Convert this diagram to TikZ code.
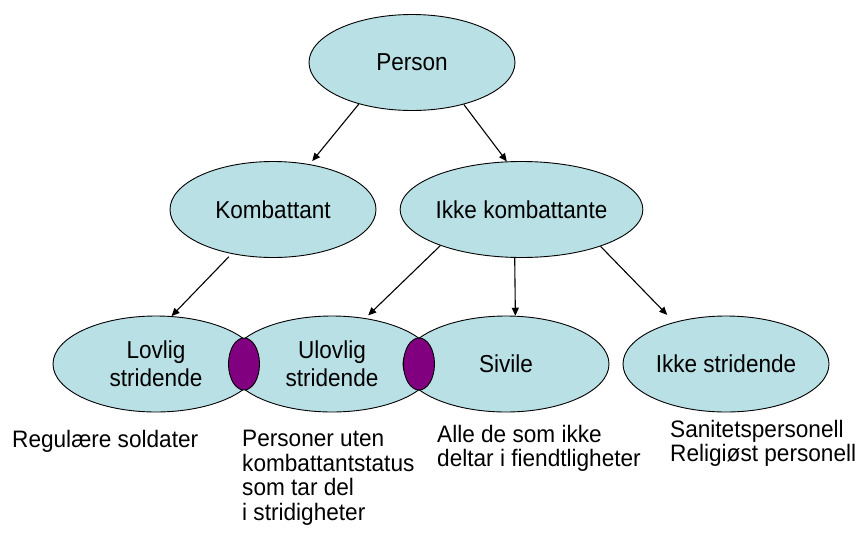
\documentclass[tikz,border=0pt]{standalone}
\usepackage{fontspec}
\setmainfont{Liberation Sans}
\newfontfamily\ovalfont[FakeStretch=0.92]{Liberation Sans}
\newfontfamily\notefont[FakeStretch=0.95]{Liberation Sans}
\usetikzlibrary{shapes.geometric,arrows.meta}
\definecolor{ovalfill}{RGB}{185,224,228}
\definecolor{lensfill}{RGB}{128,0,128}
\begin{document}
\begin{tikzpicture}[x=1pt,y=-1pt,
  oval/.style={ellipse,draw=black,line width=0.9pt,fill=ovalfill,minimum width=206pt,minimum height=96pt,inner sep=0pt,font=\ovalfont\fontsize{24.5}{28}\selectfont,align=center},
  lens/.style={ellipse,draw=black,line width=0.9pt,fill=lensfill,minimum width=31pt,minimum height=52pt,inner sep=0pt},
  conn/.style={-{Triangle[length=8pt,width=7pt]},line width=1.1pt},
  note/.style={anchor=north west,inner sep=0pt,align=left,font=\notefont\fontsize{23.8}{24.5}\selectfont}]
\useasboundingbox (0,0) rectangle (860,533);
\node[oval] (p) at (412,62.5) {Person};
\node[oval] (k) at (273,209.5) {Kombattant};
\node[oval] (ik) at (521.5,209.5) {Ikke kombattante};
\node[oval] (lov) at (156,364) {Lovlig\\stridende};
\node[oval] (ulov) at (332,364) {Ulovlig\\stridende};
\node[oval] (siv) at (506,364) {Sivile};
\node[oval] (iks) at (726,364) {Ikke stridende};
\node[lens] (o1) at (244,364) {};
\node[lens] (o2) at (419,364) {};
\draw[conn,shorten >=4pt] (p.218.9) -- (k.51.7);
\draw[conn] (p.321.1) -- (ik.107.9);
\draw[conn,shorten <=4pt] (k.227.7) -- (lov.72.6);
\draw[conn,shorten >=4pt] (ik.204.5) -- (ulov.54.7);
\draw[conn] (ik.262.3) -- (siv.79.4);
\draw[conn,shorten >=10pt] (ik.335.5) -- (iks.141.2);
\node[note] (n1) at (12,430) {Regulære soldater};
\node[note] (n2) at (242,430) {Personer uten\\kombattantstatus\\som tar del\\i stridigheter};
\node[note] (n3) at (437,425) {Alle de som ikke\\deltar i fiendtligheter};
\node[note] (n4) at (670,420) {Sanitetspersonell\\Religiøst personell};
\end{tikzpicture}
\end{document}
